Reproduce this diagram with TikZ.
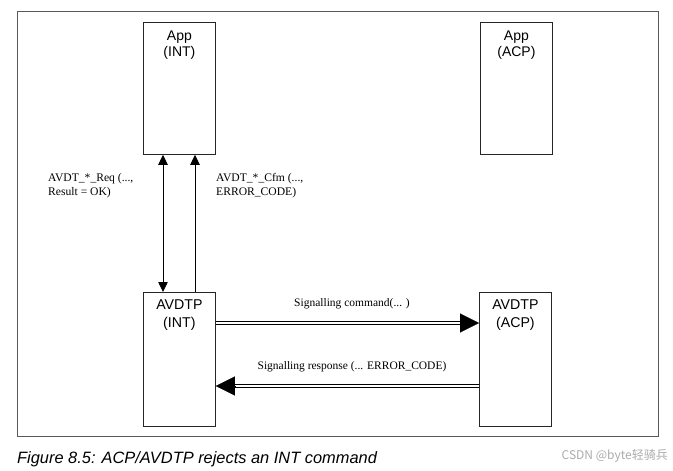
\documentclass[tikz,border=0pt]{standalone}
\usepackage{fontspec}
\setmainfont{Liberation Serif}
\setsansfont{Liberation Sans}
\newfontfamily\cjk{Noto Sans CJK SC}
\usetikzlibrary{arrows.meta,calc,positioning}
\begin{document}
\begin{tikzpicture}[x=1pt,y=-1pt,
  box/.style={draw=black!85, line width=0.8pt, minimum width=72pt, minimum height=#1, inner sep=0pt},
  boxtext/.style={font=\sffamily\fontsize{14}{15.5}\selectfont, align=center, anchor=north, inner sep=0pt, text=black},
  boxtextb/.style={font=\sffamily\fontsize{14.2}{17.5}\selectfont, align=center, anchor=north, inner sep=0pt, text=black},
  lbl/.style={font=\fontsize{11.6}{14}\selectfont, align=left, inner sep=0pt, text=black},
  hlbl/.style={font=\fontsize{11.5}{13}\selectfont, inner sep=0pt, text=black},
  varrow/.style={line width=0.8pt, draw=black, >={Triangle[length=10pt,width=9.5pt]}},
  dbl/.style={draw=black, double=white, double distance=2pt, line width=0.8pt},
  bigtip/.style={-{Triangle[length=19pt,width=19pt]}, line width=0.1pt, draw=black, fill=black}
]
\useasboundingbox (0,0) rectangle (673,471);
\node[draw=black!65, line width=0.8pt, minimum width=641pt, minimum height=425pt, inner sep=0pt, anchor=north west] (frame) at (17,11) {};

\node[box=132pt, anchor=north west] (appint) at (143,22) {};
\node[box=132pt, anchor=north west] (appacp) at (480,22) {};
\node[box=134pt, anchor=north west] (avint) at (143,292) {};
\node[box=134pt, anchor=north west] (avacp) at (479,292) {};

\node[boxtext, yshift=-9pt] (tappint) at (appint.north) {App\\(INT)};
\node[boxtext, yshift=-9pt] (tappacp) at (appacp.north) {App\\(ACP)};
\node[boxtextb, yshift=-8pt] (tavint) at (avint.north) {AVDTP\\(INT)};
\node[boxtextb, yshift=-8pt] (tavacp) at (avacp.north) {AVDTP\\(ACP)};

% vertical arrows
\coordinate (reqtop) at ($(appint.south west)+(20,0)$);
\coordinate (reqbot) at ($(avint.north west)+(20,0)$);
\coordinate (cfmtop) at ($(appint.south west)+(52,0)$);
\coordinate (cfmbot) at ($(avint.north west)+(52,0)$);
\draw[varrow, <->] (reqtop) -- (reqbot);
\draw[varrow, ->] (cfmbot) -- (cfmtop);

\node[lbl, anchor=west] (lreq) at (48,186) {AVDT\_*\_Req (...,\\Result = OK)};
\node[lbl, anchor=west] (lcfm) at (216,186) {AVDT\_*\_Cfm (...,\\ERROR\_CODE)};

% horizontal double arrows
\coordinate (cmdA) at ($(avint.north east)+(0,31)$);
\coordinate (cmdB) at ($(avacp.north west)+(0,31)$);
\coordinate (rspA) at ($(avacp.north west)+(0,94)$);
\coordinate (rspB) at ($(avint.north east)+(0,94)$);
\draw[dbl, shorten >=17pt] (cmdA) -- (cmdB);
\draw[bigtip] ($(cmdB)+(-19,0)$) -- (cmdB);
\draw[dbl, shorten >=17pt] (rspA) -- (rspB);
\draw[bigtip] ($(rspB)+(19,0)$) -- (rspB);

\node[hlbl] (lcmd) at (352,304) {Signalling command(... )};
\node[hlbl] (lrsp) at (352,367) {Signalling response (... ERROR\_CODE)};

\node[font=\sffamily\itshape\fontsize{16.4}{18}\selectfont, anchor=west, inner sep=0pt, text=black] (cap) at (17,459) {Figure 8.5: ACP/AVDTP rejects an INT command};
\node[font=\cjk\fontsize{12}{13}\selectfont, anchor=east, inner sep=0pt, text=black!33] (wm) at (668,456) {CSDN @byte轻骑兵};
\end{tikzpicture}
\end{document}
